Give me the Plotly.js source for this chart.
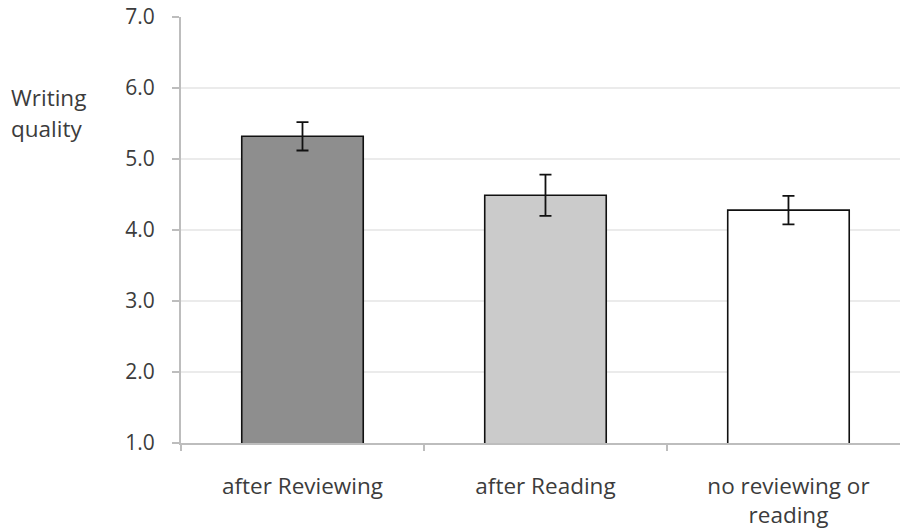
<!DOCTYPE html>
<html><head><meta charset="utf-8">
<script src="https://cdn.plot.ly/plotly-3.0.1.min.js"></script>
<style>html,body{margin:0;padding:0;background:#fff;}</style>
</head><body>
<div id="chart" style="width:900px;height:531px;"></div>
<script>
const categories = ["after Reviewing", "after Reading", "no reviewing or<br>reading"];
const quality = [5.32, 4.49, 4.28];
const errors = [0.20, 0.29, 0.20];
const barColors = ["#8e8e8e", "#cbcbcb", "#ffffff"];
const yTicks = [1, 2, 3, 4, 5, 6, 7];
const yTickText = ["1.0", "2.0", "3.0", "4.0", "5.0", "6.0", "7.0"];

const fam = "Open Sans, DejaVu Sans, sans-serif";
const tickFont = {family: fam, size: 21, color: "#3c3c3c"};
const labelFont = {family: fam, size: 22.5, color: "#3c3c3c"};

const trace = {
  type: "bar",
  x: categories,
  y: quality,
  width: 0.5,
  marker: {color: barColors, line: {color: "#111", width: 1.6}},
  error_y: {type: "data", array: errors, visible: true, color: "#111", thickness: 1.8, width: 6}
};

const layout = {
  width: 900, height: 531,
  margin: {l: 181, r: 0, t: 17, b: 88},
  paper_bgcolor: "#fff", plot_bgcolor: "#fff",
  showlegend: false,
  font: labelFont,
  xaxis: {
    range: [-0.5, 2.459], fixedrange: true,
    showgrid: false, zeroline: false,
    showline: true, linecolor: "#bdbdbd", linewidth: 2,
    tickson: "boundaries", ticks: "outside", ticklen: 6, tickcolor: "#bdbdbd", tickwidth: 1.5,
    ticklabelstandoff: 22,
    tickfont: labelFont
  },
  yaxis: {
    range: [1, 7], fixedrange: true,
    tickvals: yTicks, ticktext: yTickText,
    showgrid: true, gridcolor: "#ebebeb", gridwidth: 2,
    zeroline: false,
    showline: true, linecolor: "#bdbdbd", linewidth: 2,
    ticks: "outside", ticklen: 7, tickcolor: "#bdbdbd", tickwidth: 1.5,
    ticklabelstandoff: 13,
    tickfont: tickFont
  },
  annotations: [
    {text: "Writing", xref: "paper", yref: "paper", x: -0.239, y: 0.812, xanchor: "left", yanchor: "middle", showarrow: false, font: labelFont},
    {text: "quality", xref: "paper", yref: "paper", x: -0.239, y: 0.739, xanchor: "left", yanchor: "middle", showarrow: false, font: labelFont}
  ]
};

Plotly.newPlot("chart", [trace], layout, {displayModeBar: false, staticPlot: true});
</script>
</body></html>
